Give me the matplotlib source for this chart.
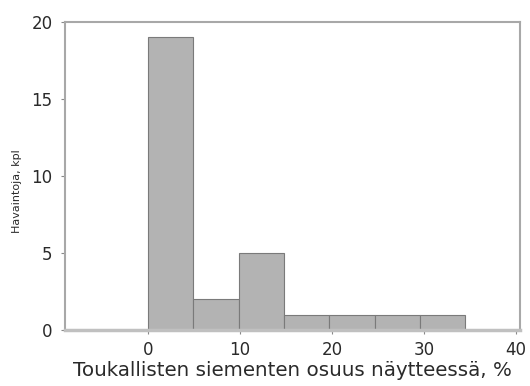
import matplotlib
matplotlib.use('Agg')
import matplotlib.pyplot as plt

# histogram bins (percent of infested seeds) and counts
bin_edges = [0, 4.93, 9.86, 14.79, 19.71, 24.64, 29.57, 34.5]
counts = [19, 2, 5, 1, 1, 1, 1]
x_ticks = [0, 10, 20, 30, 40]
y_ticks = [0, 5, 10, 15, 20]

plt.rcParams['font.family'] = ['DejaVu Sans']

fig = plt.figure(figsize=(5.3, 3.86), dpi=100)
ax = fig.add_axes([0.1226, 0.145, 0.858, 0.798])

widths = [bin_edges[i + 1] - bin_edges[i] for i in range(len(counts))]
ax.bar(bin_edges[:-1], counts, width=widths, align='edge',
       color='#b3b3b3', edgecolor='#7a7a7a', linewidth=0.8)

ax.set_xlim(-9, 40.4)
ax.set_ylim(0, 20)
ax.set_xticks(x_ticks)
ax.set_yticks(y_ticks)

for side in ['left', 'right', 'top']:
    ax.spines[side].set_color('#a8a8a8')
    ax.spines[side].set_linewidth(1.5)
ax.spines['bottom'].set_color('#c0c0c0')
ax.spines['bottom'].set_linewidth(2.5)

ax.tick_params(axis='both', direction='out', length=3, width=0.8,
               color='#888888', labelsize=12, labelcolor='#2a2a2a')
ax.tick_params(axis='x', pad=5)
ax.tick_params(axis='y', pad=6)

ax.set_xlabel('Toukallisten siementen osuus näytteessä, %', fontsize=14.3,
              color='#2a2a2a', labelpad=1)
ax.set_ylabel('Havaintoja, kpl', fontsize=8, color='#2a2a2a')
ax.yaxis.set_label_coords(-0.095, 0.45)

fig.savefig('out.png', dpi=100)
